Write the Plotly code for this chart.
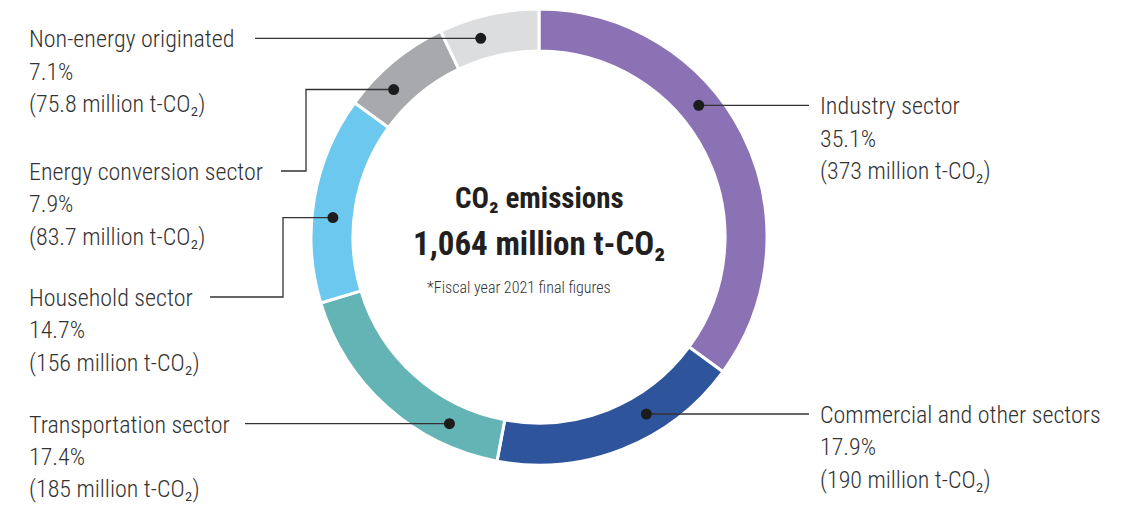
import math
import plotly.graph_objects as go

# ---------------- data ----------------
categories = ["Industry sector", "Commercial and other sectors", "Transportation sector",
              "Household sector", "Energy conversion sector", "Non-energy originated"]
shares = [35.1, 17.9, 17.4, 14.7, 7.9, 7.1]            # %
amounts = [373, 190, 185, 156, 83.7, 75.8]              # million t-CO2
colors = ["#8A72B4", "#2E559B", "#64B4B6", "#6DC8F0", "#A7A9AC", "#DCDDDF"]
total_text = "1,064"
note_text = "*Fiscal year 2021 final figures"

# ---------------- layout constants (pixels in the final screenshot) ----------------
W, H = 1145, 506
OFF = 8                      # page offset of the plot inside the browser window
CX, CY, R_OUT = 539, 237, 228
HOLE = 0.816
R_DOT = R_OUT * (1 + HOLE) / 2
# where along each slice the marker dot sits (fraction of slice)
dot_frac = [0.40, 0.35, 0.24, 0.42, 0.33, 0.36]
# label placement: (text x, first-line y or None=dot y, leader start x, elbow x or None)
label_pos = [
    (818, None, 809, None),
    (818, None, 809, None),
    (27, None, 245, None),
    (27, 297, 210, 283),
    (27, 171, 281, 306),
    (27, None, 255, None),
]
LINE_GAP = 32.3
FONT = "Roboto Condensed, Liberation Sans Narrow, Roboto, sans-serif"
TXT = "#333333"
SUB2 = "\u2082"


def px(x):
    return (x - OFF) / W


def py(y):
    return 1 - (y - OFF) / H


fig = go.Figure()
fig.add_trace(go.Pie(
    labels=categories, values=shares, sort=False, direction="clockwise", rotation=0,
    hole=HOLE, textinfo="none", hoverinfo="label+percent",
    marker=dict(colors=colors, line=dict(color="white", width=3)),
    domain=dict(x=[px(CX - R_OUT), px(CX + R_OUT)], y=[py(CY + R_OUT), py(CY - R_OUT)]),
    showlegend=False,
))

total = sum(shares)
shapes, annotations = [], []
start = 0.0
for i, cat in enumerate(categories):
    span = shares[i] / total * 360
    ang = math.radians(start + dot_frac[i] * span)
    start += span
    dx = CX + R_DOT * math.sin(ang)
    dy = CY - R_DOT * math.cos(ang)
    tx, ty, lx, ex = label_pos[i]
    if ty is None:
        ty = dy
    if ex is None:
        path = f"M {px(lx)},{py(ty)} L {px(dx)},{py(dy)}"
    else:
        path = f"M {px(lx)},{py(ty)} L {px(ex)},{py(ty)} L {px(ex)},{py(dy)} L {px(dx)},{py(dy)}"
    shapes.append(dict(type="path", xref="paper", yref="paper", path=path,
                       line=dict(color="#333333", width=1.3), layer="above"))
    shapes.append(dict(type="circle", xref="paper", yref="paper",
                       xsizemode="pixel", ysizemode="pixel",
                       xanchor=px(dx), yanchor=py(dy), x0=-5.5, x1=5.5, y0=-5.5, y1=5.5,
                       fillcolor="#1c1c1c", line=dict(width=0), layer="above"))
    lines = [cat, f"{shares[i]:.1f}%", f"({amounts[i]:g} million t-CO{SUB2})"]
    for k, t in enumerate(lines):
        annotations.append(dict(x=px(tx), y=py(ty + 1 + k * LINE_GAP), xref="paper", yref="paper",
                                text=t, showarrow=False, xanchor="left", yanchor="middle",
                                font=dict(family=FONT, size=24, color=TXT, weight=300)))

annotations.append(dict(x=px(CX), y=py(198), xref="paper", yref="paper",
                        text=f"<b>CO{SUB2} emissions</b>", showarrow=False,
                        xanchor="center", yanchor="middle",
                        font=dict(family=FONT, size=29, color="#231F20")))
annotations.append(dict(x=px(CX), y=py(243), xref="paper", yref="paper",
                        text=f"<b>{total_text} million t-CO{SUB2}</b>", showarrow=False,
                        xanchor="center", yanchor="middle",
                        font=dict(family=FONT, size=33, color="#231F20")))
annotations.append(dict(x=px(CX - 20), y=py(287), xref="paper", yref="paper",
                        text=note_text, showarrow=False, xanchor="center", yanchor="middle",
                        font=dict(family=FONT, size=16, color=TXT, weight=300)))

fig.update_layout(width=W, height=H, margin=dict(l=0, r=0, t=0, b=0),
                  paper_bgcolor="white", plot_bgcolor="white",
                  shapes=shapes, annotations=annotations)
fig.write_html("out.html")
